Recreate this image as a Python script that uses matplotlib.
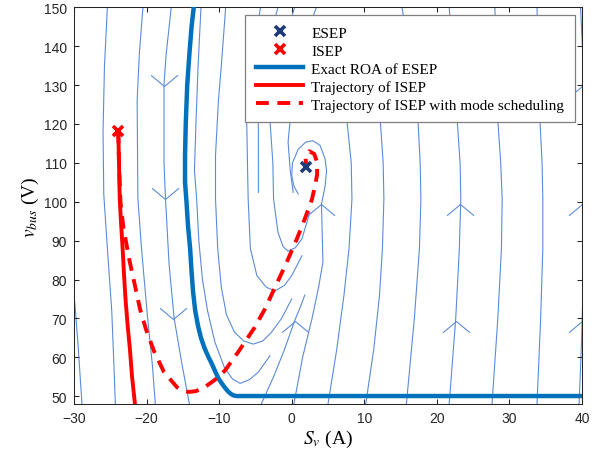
import matplotlib
matplotlib.use('Agg')
import matplotlib.pyplot as plt
from matplotlib.path import Path

plt.rcParams['mathtext.fontset'] = 'stix'

# ---------------- data ----------------
esep_x, esep_y = [2.0], [109.0]
isep_x, isep_y = [-23.9], [118.3]

roa_x = [-13.5, -13.8, -14.1, -14.4, -14.6, -14.7, -14.7, -14.5, -14.3, -14.0, -13.8, -13.6, -13.3,
         -12.9, -12.5, -12.0, -11.5, -11.0, -10.5, -10.1, -9.6, -9.2, -8.8, -8.4, -8.0, -7.6, 40.0]
roa_y = [150, 145, 138, 130, 120, 112, 105, 100, 94, 88, 82, 77, 72,
         68, 65, 62.3, 60.2, 58.3, 56.2, 54.6, 53.2, 52.2, 51.3, 50.6, 50.2, 50.05, 50.05]

traj_x = [-23.9, -23.8, -23.7, -23.5, -23.3, -23.1, -22.9, -22.6, -22.3, -22.0, -21.6]
traj_y = [118.3, 110, 100.7, 94, 88, 81, 75, 68, 62.2, 55, 48]

sched_x = [-23.9, -23.8, -23.6, -23.2, -22.4, -21.7, -20.9, -20.1, -19.0, -17.6, -15.8, -14.9, -14.2,
           -13.2, -12.0, -10.6, -9.2, -7.4, -5.1, -3.7, -2.3, -0.7, 0.7, 1.8, 2.8, 3.2, 3.5, 3.5, 3.1, 2.4, 1.9, 2.0]
sched_y = [118.3, 110, 100, 93.4, 85.3, 79.3, 72.4, 67.3, 61.7, 56.2, 52.3, 51.4, 51.1,
           51.3, 52.3, 54.2, 56.6, 61.3, 67.7, 72.4, 78.0, 84.4, 90.4, 95.6, 100.7, 104, 107, 110.2, 112.3, 113, 111.5, 109.2]

# streamlines of the phase portrait
sl_a0 = ([-30.2, -29.8, -29.4, -28.9], [80, 72, 62, 48])
sl_a = ([-25.4, -25.8, -26.0, -25.9, -25.4, -24.8, -24.5, -24.3], [150, 135, 118, 102, 88, 72, 58, 48])
sl_b = ([-20.5, -21.0, -21.3, -21.2, -20.7, -19.9, -19.2, -18.8], [150, 138, 126, 101, 88, 71, 58, 48])
sl_c = ([-16.6, -17.3, -17.6, -17.6, -17.4, -16.9, -16.2, -15.1, -14.1], [150, 138, 130, 110, 101, 84, 70, 58, 48])
sl_u1 = ([-12.5, -12.9, -13.2, -13.4, -13.1, -12.8, -12.3, -11.6, -10.6, -9.3, -8.2, -7.1, -5.8, -4.6, -3.0],
         [150, 135, 120, 108, 100.7, 90, 80, 72, 64, 57.5, 54.5, 53.3, 54.3, 56.2, 60.4])
sl_u2 = ([-9.1, -9.7, -10.1, -10.5, -10.5, -10.2, -9.7, -9.0, -7.9, -6.6, -5.3, -4.0, -2.8, -1.4, 0.0],
         [150, 135, 126, 112, 100.7, 88, 78, 71, 66.5, 64.2, 63.4, 64.2, 66.4, 70, 75])
sl_u3 = ([-4.3, -5.6, -6.2, -6.1, -6.0, -5.7, -4.8, -3.5, -2.3, -1.0, 0.0, 1.4],
         [150, 135, 121, 110, 100.7, 88, 81, 78, 77.1, 78.5, 81, 86.1])
sl_s1 = ([-1.9, -4.0, -4.6, -4.6], [150, 135, 121, 102.4])
sl_u4 = ([0.4, -2.0, -3.0, -2.6, -2.5, -1.9, -1.2, -0.5, 0.5, 1.4, 2.5],
         [150, 135, 121, 110, 100.7, 92.2, 88.5, 87.3, 88.2, 90.4, 97.3])
sl_s2 = ([3.4, 0.5, -0.2, -0.5, -0.2, 0.2], [150, 135, 121.3, 115.3, 108, 102.4])
sl_spiral = ([0.3, 1.5, 2.8, 3.7, 4.3, 4.2, 4.1, 4.6, 4.8, 4.6, 3.9, 2.9, 1.9, 0.9, 0.1, 0.0, 0.3, 0.9],
             [48, 60, 70, 78, 84.5, 92, 99.4, 104, 108, 111, 114.5, 115.7, 115.3, 113.5, 110, 106.7, 104, 102])
sl_p = ([-4.2, -2.5, -1.0, 0.4, 1.2, 1.8], [48, 55, 62, 69.4, 73, 76])
sl_r1 = ([5.0, 6.2, 7.2, 7.9, 8.3, 8.2, 7.6, 6.5, 4.5], [48, 62, 76, 88, 100.7, 110, 121, 132, 140])
sl_r2 = ([10.2, 11.3, 12.1, 12.5, 12.7, 12.6, 12.2, 11.0, 9.0], [48, 62, 76, 88, 100.7, 110, 121, 135, 145])
sl_r3 = ([15.8, 16.9, 17.6, 17.8, 17.7, 17.4, 16.5, 15.2], [48, 70, 88, 100.7, 110, 121, 135, 150])
sl_r4 = ([21.7, 22.6, 23.1, 23.3, 23.2, 22.8, 22.3, 21.7], [48, 70, 88, 100.7, 110, 121, 135, 150])
sl_r5 = ([27.6, 28.4, 28.9, 29.0, 28.8, 28.4, 28.2, 28.0], [48, 70, 88, 100.7, 110, 121, 135, 150])
sl_r6 = ([33.8, 34.3, 34.6, 34.6, 34.5, 34.2, 34.0, 33.8], [48, 70, 88, 100.7, 110, 121, 135, 150])
sl_r7 = ([39.6, 39.9, 40.1], [48, 62, 75])
sl_r8 = ([40.3, 40.0, 39.8], [130, 142, 150])
streamlines = [sl_a0, sl_a, sl_b, sl_c, sl_u1, sl_u2, sl_u3, sl_s1, sl_u4, sl_s2, sl_spiral, sl_p,
               sl_r1, sl_r2, sl_r3, sl_r4, sl_r5, sl_r6, sl_r7, sl_r8]

arrow_down_x = [-17.6, -17.4, -16.3]
arrow_down_y = [129.8, 100.7, 69.8]
arrow_up_x = [4.1, 0.4, 23.2, 22.7, 40.0, 40.0, 40.0]
arrow_up_y = [99.4, 69.4, 99.4, 69.4, 129.8, 99.4, 69.4]

xticks = [-30, -20, -10, 0, 10, 20, 30, 40]
yticks = [50, 60, 70, 80, 90, 100, 110, 120, 130, 140, 150]

# ---------------- style ----------------
c_stream = '#5b8bd8'
c_roa = '#0072BD'
c_red = '#FF0000'
c_esep = '#1f3c7a'

fig = plt.figure(figsize=(6.08, 4.6), dpi=100)
ax = fig.add_axes([74 / 608, 55 / 460, 508 / 608, 396.7 / 460])

for sx, sy in streamlines:
    ax.plot(sx, sy, color=c_stream, lw=0.8, zorder=1, solid_joinstyle='round')

down_marker = Path([(-1.2, 1), (0, 0), (1.2, 1)], [Path.MOVETO, Path.LINETO, Path.LINETO])
up_marker = Path([(-1.2, -1), (0, 0), (1.2, -1)], [Path.MOVETO, Path.LINETO, Path.LINETO])
ax.plot(arrow_down_x, arrow_down_y, ls='none', marker=down_marker, ms=19.4, mew=0.8,
        mec=c_stream, mfc='none', zorder=1)
ax.plot(arrow_up_x, arrow_up_y, ls='none', marker=up_marker, ms=19.4, mew=0.8,
        mec=c_stream, mfc='none', zorder=1)

h_roa, = ax.plot(roa_x, roa_y, color=c_roa, lw=3.2, zorder=3, solid_joinstyle='round')
h_traj, = ax.plot(traj_x, traj_y, color=c_red, lw=2.8, zorder=4, solid_joinstyle='round')
h_sched, = ax.plot(sched_x, sched_y, color=c_red, lw=2.8, dashes=(3.3, 2.2), zorder=4)
h_isep, = ax.plot(isep_x, isep_y, ls='none', marker='x', ms=7.5, mew=2.6, color=c_red, zorder=5)
h_esep, = ax.plot(esep_x, esep_y, ls='none', marker='x', ms=7.5, mew=2.6, color=c_esep, zorder=5)

ax.set_xlim(-30, 40)
ax.set_ylim(48, 150)
ax.set_xticks(xticks)
ax.set_yticks(yticks)
ax.tick_params(direction='in', top=True, right=True, length=3.6, width=0.75,
               color='#262626', labelsize=10, pad=5)
for lab in ax.get_xticklabels() + ax.get_yticklabels():
    lab.set_fontfamily('Liberation Sans')
    lab.set_color('#262626')
for sp in ax.spines.values():
    sp.set_linewidth(0.75)
    sp.set_color('#262626')

ax.set_xlabel(r'$S_v$ (A)', fontfamily='Liberation Serif', fontsize=14, labelpad=2)
ax.set_ylabel(r'$v_{bus}$ (V)', fontfamily='Liberation Serif', fontsize=14, labelpad=2)

leg = ax.legend([h_esep, h_isep, h_roa, h_traj, h_sched],
                ['ESEP', 'ISEP', 'Exact ROA of ESEP', 'Trajectory of ISEP',
                 'Trajectory of ISEP with mode scheduling'],
                loc='upper right', bbox_to_anchor=(0.9855, 0.980), borderaxespad=0,
                prop={'family': 'Liberation Serif', 'size': 11},
                frameon=True, fancybox=False, framealpha=1, edgecolor='#7f7f7f',
                handlelength=3.1, labelspacing=0.28, borderpad=0.7, handletextpad=0.5)
leg.get_frame().set_linewidth(0.9)
leg.set_zorder(10)

fig.savefig('out.png', dpi=100)
